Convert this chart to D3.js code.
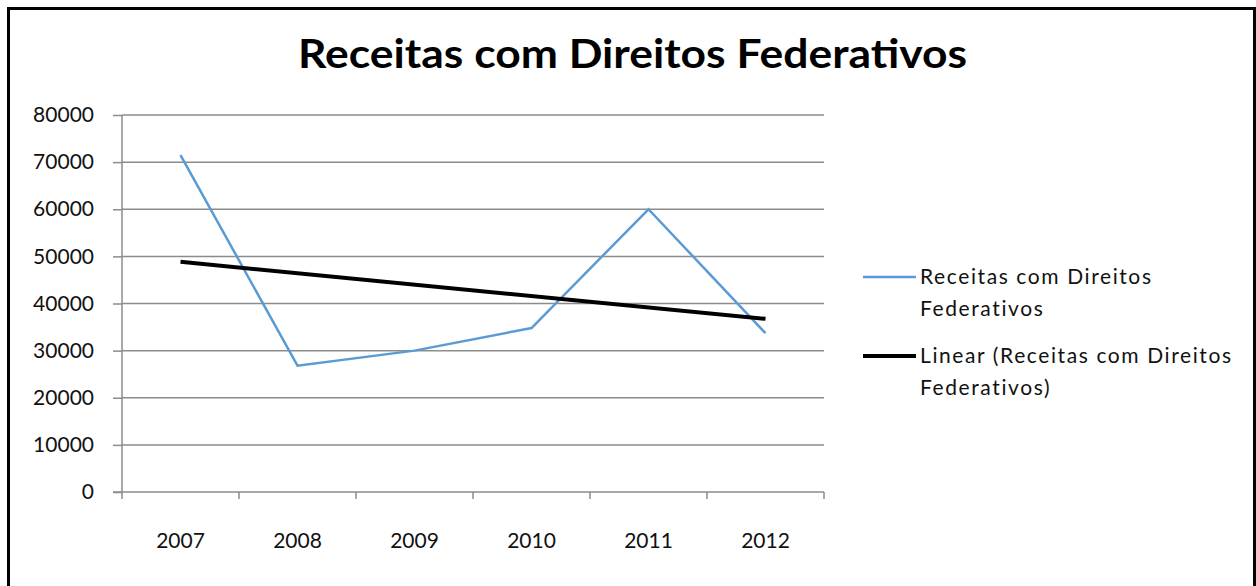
<!DOCTYPE html>
<html>
<head>
<meta charset="utf-8">
<script src="https://cdn.jsdelivr.net/npm/d3@7"></script>
<style>
  body { margin: 0; background: #fff; }
  text { font-family: Lato, "Open Sans", sans-serif; fill: #111; }
</style>
</head>
<body>
<div id="chart"></div>
<script>
// values
var years = ["2007", "2008", "2009", "2010", "2011", "2012"];
var receitas = [71500, 26800, 30000, 34800, 60000, 33700];
var yTicks = [0, 10000, 20000, 30000, 40000, 50000, 60000, 70000, 80000];
var seriesName = "Receitas com Direitos Federativos";
var legendLabels = [
    ["Receitas com Direitos", "Federativos"],
    ["Linear (Receitas com Direitos", "Federativos)"]
];

var width = 1256, height = 586;
var plotLeft = 122, plotRight = 824, plotTop = 115, plotBottom = 492;

var svg = d3.select("#chart")
    .append("svg")
    .attr("width", width)
    .attr("height", height);

// frame
svg.append("rect")
    .attr("x", 8.5)
    .attr("y", 8.5)
    .attr("width", 1246)
    .attr("height", 620)
    .attr("fill", "none")
    .attr("stroke", "#000")
    .attr("stroke-width", 3);

svg.append("text")
    .attr("x", 298)
    .attr("y", 68)
    .attr("textLength", 669)
    .attr("lengthAdjust", "spacingAndGlyphs")
    .style("font-size", "40px")
    .style("font-weight", "bold")
    .style("fill", "#000")
    .text(seriesName);

var x = d3.scaleBand()
    .domain(years)
    .range([plotLeft, plotRight]);

var y = d3.scaleLinear()
    .domain([0, 80000])
    .range([plotBottom, plotTop]);

// gridlines
svg.append("g")
    .selectAll("line")
    .data(yTicks.slice(1))
    .enter()
    .append("line")
    .attr("x1", plotLeft)
    .attr("x2", plotRight)
    .attr("y1", function(d) { return y(d); })
    .attr("y2", function(d) { return y(d); })
    .attr("stroke", "#8c8c8c")
    .attr("stroke-width", 1.5);

// y axis
var yAxis = svg.append("g")
    .attr("transform", "translate(" + plotLeft + ",0)")
    .call(d3.axisLeft(y).tickValues(yTicks).tickSize(9).tickPadding(19).tickFormat(d3.format("d")));

// x axis
var xAxis = svg.append("g")
    .attr("transform", "translate(0," + plotBottom + ")")
    .call(d3.axisBottom(x).tickSize(0).tickPadding(41));

// category ticks between the years
xAxis.selectAll(".sep")
    .data(d3.range(years.length + 1))
    .enter()
    .append("line")
    .attr("class", "sep")
    .attr("x1", function(i) { return plotLeft + i * x.step(); })
    .attr("x2", function(i) { return plotLeft + i * x.step(); })
    .attr("y1", 0)
    .attr("y2", 7)
    .attr("stroke", "#8c8c8c")
    .attr("stroke-width", 1.5);

[yAxis, xAxis].forEach(function(a) {
    a.select(".domain").attr("stroke", "#8c8c8c").attr("stroke-width", 1.5);
    a.selectAll(".tick line").attr("stroke", "#8c8c8c").attr("stroke-width", 1.5);
    a.selectAll(".tick text")
        .style("font-size", "21px")
        .style("font-family", "Lato, sans-serif")
        .attr("fill", "#111");
});
yAxis.select(".domain").attr("d", "M0," + plotBottom + "V" + plotTop);
xAxis.select(".domain").attr("d", "M" + (plotLeft - 9) + ",0H" + plotRight);

// data line
var line = d3.line()
    .x(function(d, i) { return x(years[i]) + x.bandwidth() / 2; })
    .y(function(d) { return y(d); });

svg.append("path")
    .datum(receitas)
    .attr("d", line)
    .attr("fill", "none")
    .attr("stroke", "#5B9BD5")
    .attr("stroke-width", 2.5)
    .attr("stroke-linejoin", "miter");

// linear trend (least squares over the series)
var n = receitas.length;
var mx = d3.mean(d3.range(n)), my = d3.mean(receitas);
var slope = d3.sum(receitas, function(d, i) { return (i - mx) * (d - my); }) /
    d3.sum(d3.range(n), function(i) { return (i - mx) * (i - mx); });
var trend = [0, n - 1].map(function(i) { return [i, my + slope * (i - mx)]; });

svg.append("path")
    .datum(trend)
    .attr("d", d3.line()
        .x(function(d) { return x(years[d[0]]) + x.bandwidth() / 2; })
        .y(function(d) { return y(d[1]); }))
    .attr("fill", "none")
    .attr("stroke", "#000")
    .attr("stroke-width", 4);

// legend
var legend = svg.append("g");
var legendColors = ["#5B9BD5", "#000"];
var legendWidths = [2.5, 4];
var legendY = [277, 356];

legendLabels.forEach(function(lines, k) {
    legend.append("line")
        .attr("x1", 863)
        .attr("x2", 916)
        .attr("y1", legendY[k])
        .attr("y2", legendY[k])
        .attr("stroke", legendColors[k])
        .attr("stroke-width", legendWidths[k]);
    lines.forEach(function(t, j) {
        legend.append("text")
            .attr("x", 920)
            .attr("y", legendY[k] + j * 32)
            .attr("dy", "0.35em")
            .style("font-size", "21px")
            .style("letter-spacing", "1.6px")
            .text(t);
    });
});
</script>
</body>
</html>
